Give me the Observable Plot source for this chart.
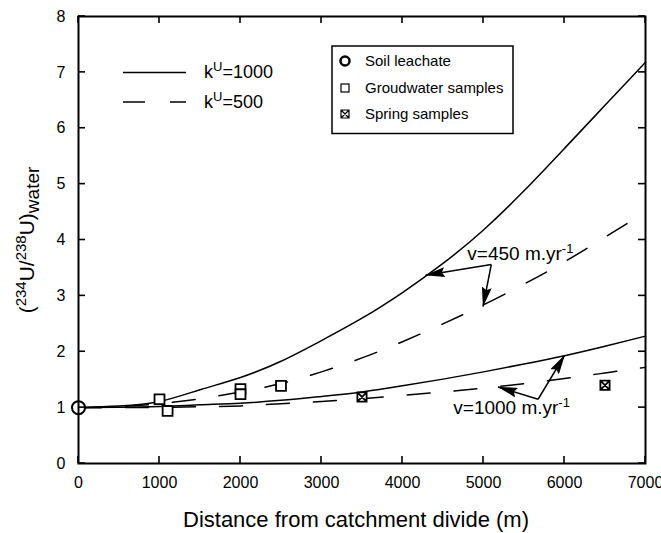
<!DOCTYPE html>
<html><head><meta charset="utf-8">
<script src="https://cdn.jsdelivr.net/npm/d3@7"></script>
<script src="https://cdn.jsdelivr.net/npm/@observablehq/plot@0.6"></script>
<style>
html,body{margin:0;padding:0;background:#fff;}
svg{display:block;}
</style>
</head><body><div id="chart"></div>
<script>
// ---- data ----
const distance    = [0, 500, 1000, 1500, 2000, 2500, 3000, 3500, 4000, 4500, 5000, 5500, 6000, 6500, 7000];
const k1000_v450  = [1.00, 1.03, 1.11, 1.32, 1.54, 1.83, 2.20, 2.60, 3.06, 3.58, 4.18, 4.88, 5.64, 6.41, 7.18];
const k500_v450   = [1.00, 1.02, 1.07, 1.16, 1.28, 1.43, 1.64, 1.89, 2.18, 2.50, 2.84, 3.21, 3.61, 4.05, 4.50];
const k1000_v1000 = [1.00, 1.005, 1.02, 1.05, 1.08, 1.13, 1.20, 1.28, 1.39, 1.51, 1.64, 1.78, 1.93, 2.10, 2.28];
const k500_v1000  = [1.00, 1.00, 1.005, 1.015, 1.03, 1.07, 1.11, 1.16, 1.22, 1.28, 1.35, 1.43, 1.52, 1.62, 1.72];

const soilX = [0],    soilY = [1.00];
const groundX = [1000, 1100, 2000, 2000, 2500];
const groundY = [1.15, 0.94, 1.33, 1.24, 1.39];
const springX = [3500, 6500];
const springY = [1.19, 1.40];

const xTicks = [0, 1000, 2000, 3000, 4000, 5000, 6000, 7000];
const yTicks = [0, 1, 2, 3, 4, 5, 6, 7, 8];

const xTitle = "Distance from catchment divide (m)";
const lineLegend = ["1000", "500"];
const symbolLegend = ["Soil leachate", "Groudwater samples", "Spring samples"];

const annotLabels = ["v=450 m.yr", "v=1000 m.yr"];
const annotX = [4800, 4627];
const annotY = [3.65, 0.88];
// arrows: from vertex to tip
const arrowX1 = [5096, 5096, 5674, 5674];
const arrowY1 = [3.56, 3.56, 1.15, 1.15];
const arrowX2 = [4284, 4994, 5179, 6002];
const arrowY2 = [3.37, 2.81, 1.37, 1.94];

// ---- tables ----
const mk = (ys, s) => distance.map((x, i) => ({x, y: ys[i], s}));
const solidRows = [...mk(k1000_v450, "a"), ...mk(k1000_v1000, "b")];
const dashRows = [...mk(k500_v450, "a"), ...mk(k500_v1000, "b")];
const soil = soilX.map((x, i) => ({x, y: soilY[i]}));
const ground = groundX.map((x, i) => ({x, y: groundY[i]}));
const spring = springX.map((x, i) => ({x, y: springY[i]}));
const annots = annotLabels.map((t, i) => ({t, x: annotX[i], y: annotY[i]}));
const arrows = arrowX1.map((x1, i) => ({x1, y1: arrowY1[i], x2: arrowX2[i], y2: arrowY2[i]}));

const FONT = "'Liberation Sans', Arial, Helvetica, sans-serif";
const boxX = {draw(ctx, size) {
  const s = Math.sqrt(size) / 2;
  ctx.moveTo(-s, -s); ctx.lineTo(s, -s); ctx.lineTo(s, s); ctx.lineTo(-s, s); ctx.closePath();
  ctx.moveTo(-s, -s); ctx.lineTo(s, s);
  ctx.moveTo(s, -s); ctx.lineTo(-s, s);
}};
const fmt = d => String(d);

const W = 661, H = 533, ML = 78, MR = 16, MT = 16, MB = 70, TK = 7;

const svgNode = Plot.plot({
  width: W, height: H,
  marginLeft: ML, marginRight: MR, marginTop: MT, marginBottom: MB,
  style: {fontFamily: FONT, background: "white", color: "black"},
  x: {domain: [0, 7000], label: null},
  y: {domain: [0, 8], label: null},
  marks: [
    Plot.line(solidRows, {x: "x", y: "y", z: "s", curve: "natural", stroke: "black", strokeWidth: 1.5}),
    Plot.line(dashRows, {x: "x", y: "y", z: "s", curve: "natural", stroke: "black", strokeWidth: 1.5, strokeDasharray: "23,24"}),
    Plot.link(arrows, {x1: "x1", y1: "y1", x2: "x2", y2: "y2", stroke: "black", strokeWidth: 1.5, className: "arrowlink"}),
    Plot.text(annots, {x: "x", y: "y", text: "t", textAnchor: "start", lineAnchor: "bottom", fontSize: 19, fill: "black", className: "annot"}),
    Plot.dot(ground, {x: "x", y: "y", symbol: "square", r: 5.6, fill: "white", stroke: "black", strokeWidth: 1.8}),
    Plot.dot(spring, {x: "x", y: "y", symbol: boxX, r: 5.2, fill: "white", stroke: "black", strokeWidth: 1.8}),
    Plot.dot(soil, {x: "x", y: "y", symbol: "circle", r: 6.5, fill: "white", stroke: "black", strokeWidth: 2}),
    Plot.frame({stroke: "black", strokeWidth: 2}),
    Plot.axisX(xTicks, {anchor: "bottom", tickSize: 0, tickPadding: 13, fontSize: 16, tickFormat: fmt, label: null}),
    Plot.axisY(yTicks, {anchor: "left", tickSize: 0, tickPadding: 13, fontSize: 16, tickFormat: fmt, label: null})
  ]
});
document.getElementById("chart").appendChild(svgNode);

const svg = d3.select(svgNode);

// inward ticks on all four sides, placed with Plot's own x / y scales
const sx = svgNode.scale("x"), syS = svgNode.scale("y");
const px = sx.apply ? (v => sx.apply(v)) : d3.scaleLinear(sx.domain, sx.range);
const py = syS.apply ? (v => syS.apply(v)) : d3.scaleLinear(syS.domain, syS.range);
const x0 = ML, x1 = W - MR, y0 = MT, y1 = H - MB;
const tg = svg.append("g").attr("stroke", "black").attr("stroke-width", 1.6);
xTicks.forEach(v => {
  const X = px(v);
  tg.append("line").attr("x1", X).attr("x2", X).attr("y1", y1).attr("y2", y1 - TK);
  tg.append("line").attr("x1", X).attr("x2", X).attr("y1", y0).attr("y2", y0 + TK);
});
yTicks.forEach(v => {
  const Y = py(v);
  tg.append("line").attr("y1", Y).attr("y2", Y).attr("x1", x0).attr("x2", x0 + TK);
  tg.append("line").attr("y1", Y).attr("y2", Y).attr("x1", x1).attr("x2", x1 - TK);
});

// arrowheads
const defs = svg.insert("defs", ":first-child");
defs.append("marker").attr("id", "ah").attr("viewBox", "0 0 20 10")
  .attr("refX", 19.5).attr("refY", 5).attr("markerWidth", 20).attr("markerHeight", 10)
  .attr("markerUnits", "userSpaceOnUse").attr("orient", "auto")
  .append("path").attr("d", "M0,0 L20,5 L0,10 L3,5 Z").attr("fill", "black");
svg.selectAll(".arrowlink path").attr("marker-end", "url(#ah)");

// superscripts on annotations
svg.selectAll(".annot text").each(function() {
  d3.select(this).append("tspan").attr("dy", "-7").attr("font-size", 13).text("-1");
});

// x title
svg.append("text").attr("x", 356).attr("y", 527).attr("text-anchor", "middle")
  .attr("font-family", FONT).attr("font-size", 22).attr("fill", "black").text(xTitle);

// y title
const yt = svg.append("text").attr("transform", "translate(34,240) rotate(-90)")
  .attr("text-anchor", "middle").attr("font-family", FONT).attr("font-size", 21).attr("fill", "black");
yt.append("tspan").text("(");
yt.append("tspan").attr("font-size", 15).attr("dy", -8).text("234");
yt.append("tspan").attr("dy", 8).text("U/");
yt.append("tspan").attr("font-size", 15).attr("dy", -8).text("238");
yt.append("tspan").attr("dy", 8).text("U)");
yt.append("tspan").attr("font-size", 19).attr("dy", 5).text("water");

// line legend
const lg = svg.append("g").attr("font-family", FONT).attr("text-anchor", "start").attr("fill", "black");
[72.5, 102].forEach((yy, i) => {
  lg.append("line").attr("x1", 123).attr("x2", 186).attr("y1", yy).attr("y2", yy)
    .attr("stroke", "black").attr("stroke-width", 1.5)
    .attr("stroke-dasharray", i === 1 ? "22,25" : null);
  const t = lg.append("text").attr("x", 204).attr("y", yy + 5.5).attr("font-size", 18).attr("text-anchor", "start");
  t.append("tspan").text("k");
  t.append("tspan").attr("font-size", 13).attr("dy", -7).text("U");
  t.append("tspan").attr("dy", 7).text("=" + lineLegend[i]);
});

// symbol legend
const sg = svg.append("g").attr("font-family", FONT).attr("text-anchor", "start");
sg.append("rect").attr("x", 332).attr("y", 46).attr("width", 181).attr("height", 87.5)
  .attr("fill", "white").attr("stroke", "black").attr("stroke-width", 1.5);
const sy = [61, 88, 114];
sg.append("circle").attr("cx", 345).attr("cy", sy[0]).attr("r", 4.5).attr("fill", "white").attr("stroke", "black").attr("stroke-width", 2.5);
sg.append("rect").attr("x", 341).attr("y", sy[1] - 4).attr("width", 8).attr("height", 8).attr("fill", "white").attr("stroke", "black").attr("stroke-width", 1.2);
const bp = d3.path(); boxX.draw(bp, 64);
sg.append("path").attr("d", bp.toString())
  .attr("transform", `translate(345,${sy[2]})`).attr("fill", "white").attr("stroke", "black").attr("stroke-width", 1.2);
symbolLegend.forEach((s, i) => {
  sg.append("text").attr("x", 365).attr("y", sy[i] + 5).attr("font-size", 15)
    .attr("fill", "black").attr("text-anchor", "start").text(s);
});
</script>
</body></html>
